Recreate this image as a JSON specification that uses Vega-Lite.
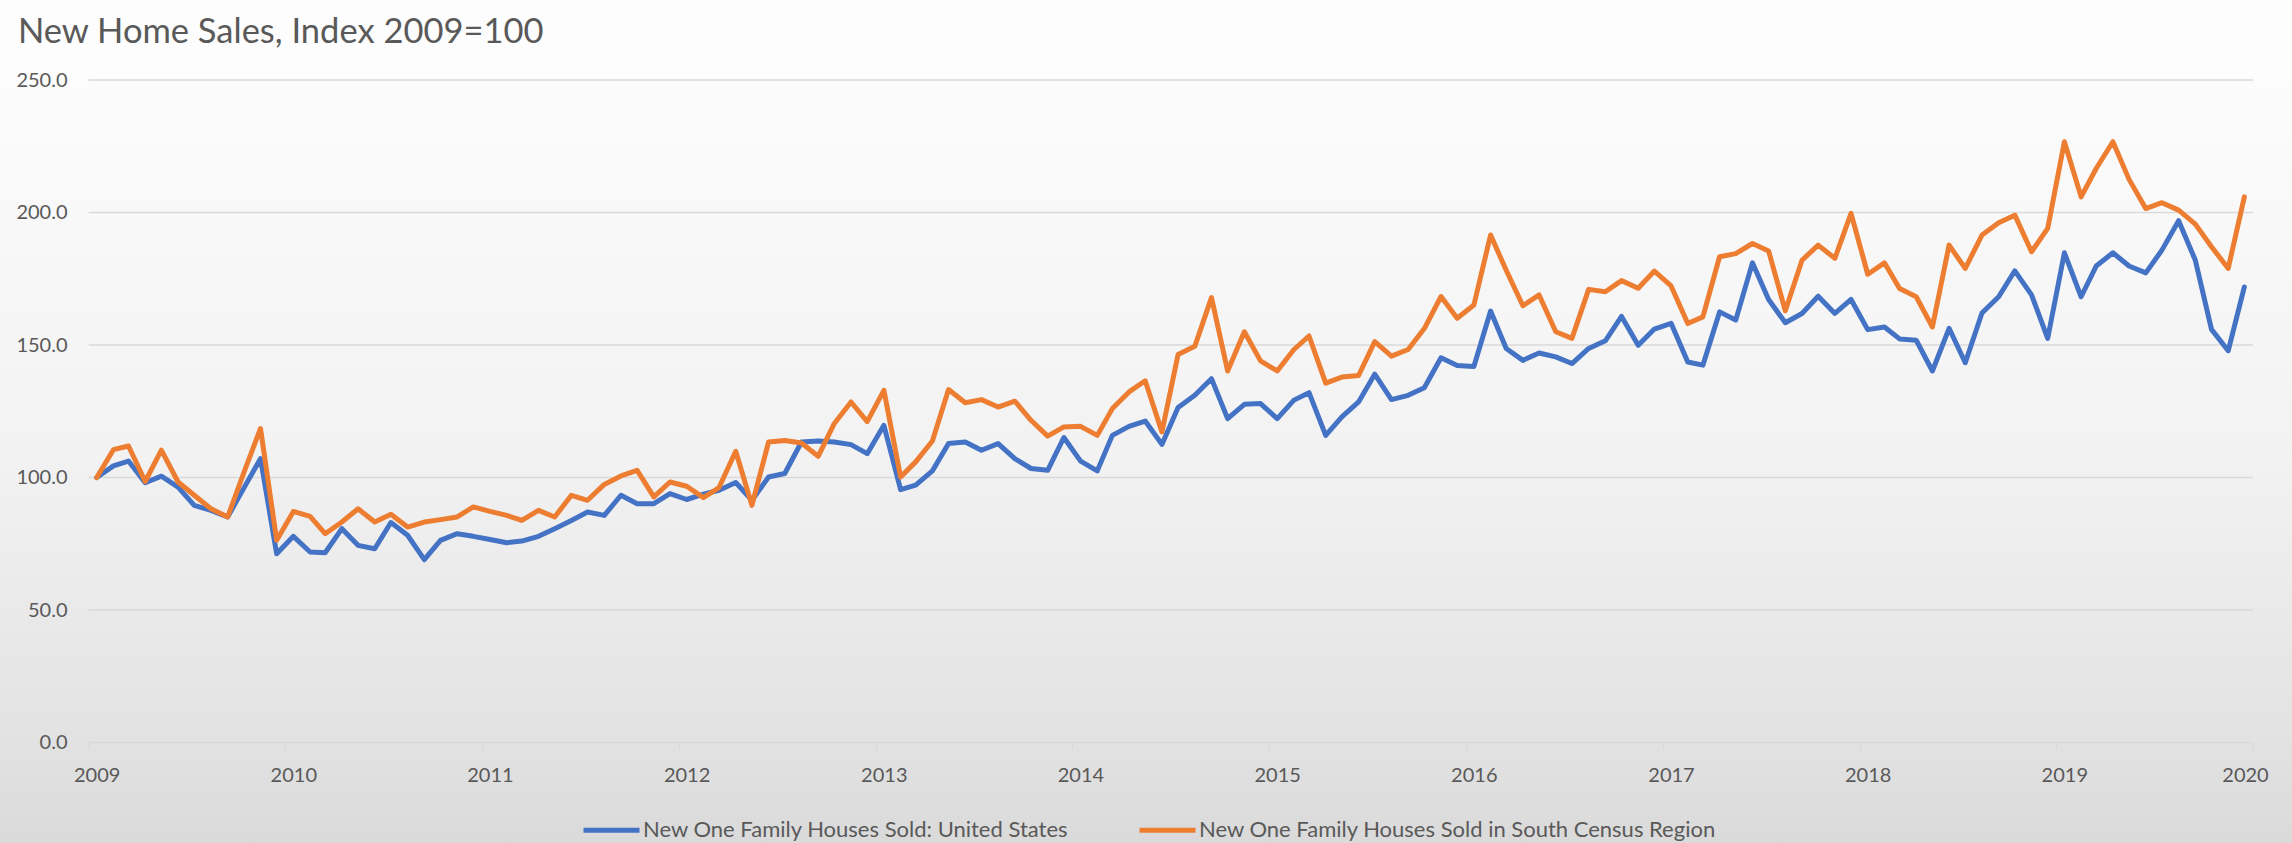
{
  "$schema": "https://vega.github.io/schema/vega-lite/v6.json",
  "autosize": "none",
  "width": 2292,
  "height": 763,
  "padding": {"left": 0, "right": 0, "top": 80, "bottom": 0},
  "background": "#fdfdfd",
  "title": {
    "text": "New Home Sales, Index 2009=100",
    "anchor": "start",
    "frame": "group",
    "dx": 18,
    "offset": 36,
    "dy": 43,
    "baseline": "alphabetic",
    "font": "Lato",
    "fontSize": 34.5,
    "fontWeight": "normal",
    "color": "#595959"
  },
  "config": {
    "view": {
      "stroke": null,
      "fill": {
        "gradient": "linear",
        "x1": 0, "y1": 0, "x2": 0, "y2": 1,
        "stops": [
          {"offset": 0, "color": "#fcfcfc"},
          {"offset": 0.5, "color": "#f2f2f2"},
          {"offset": 0.87, "color": "#e2e2e2"},
          {"offset": 1, "color": "#dadada"}
        ]
      }
    },
    "axisX": {
      "title": null,
      "format": "%Y",
      "tickCount": {"interval": "year", "step": 1},
      "offset": -100.5,
      "grid": false,
      "domain": false,
      "tickColor": "#d9d9d9",
      "tickWidth": 1.5,
      "tickSize": 7,
      "labelFont": "Lato",
      "labelFontSize": 20,
      "labelColor": "#595959",
      "labelPadding": 16,
      "labelFlush": false,
      "labelOverlap": false,
      "labelAlign": "center"
    },
    "axisY": {
      "title": null,
      "format": ".1f",
      "offset": -89,
      "domain": false,
      "ticks": false,
      "tickSize": 0,
      "labelPadding": 22,
      "grid": false,
      "labelFont": "Lato",
      "labelFontSize": 20,
      "labelColor": "#595959"
    }
  },
  "layer": [
    {
      "data": {"values": [{"v": 0}, {"v": 50}, {"v": 100}, {"v": 150}, {"v": 200}, {"v": 250}]},
      "mark": {"type": "rule", "color": "#d9d9d9", "strokeWidth": 1.5},
      "encoding": {
        "x": {
          "datum": {"year": 2009, "month": 1, "date": 1, "utc": true},
          "type": "temporal",
          "scale": {
            "type": "utc",
            "domain": [{"year": 2008, "month": 7, "date": 20, "hours": 12, "utc": true}, {"year": 2020, "month": 3, "date": 13, "hours": 10, "utc": true}],
            "nice": false
          },
          "axis": {
            "title": null,
            "labelFlush": false,
            "labelAlign": "center",
            "labelOffset": {"condition": {"test": "utcyear(datum.value) >= 2020", "value": -8}, "value": 8}
          }
        },
        "x2": {"datum": {"year": 2020, "month": 1, "date": 1, "utc": true}},
        "y": {
          "field": "v",
          "type": "quantitative",
          "scale": {"domain": [-37.92, 250], "nice": false, "zero": false},
          "axis": {"title": null, "values": [0, 50, 100, 150, 200, 250]}
        }
      }
    },
    {
      "data": {"values": [
{"date":"2009-01-16","s":"US","v":100},{"date":"2009-02-16","s":"US","v":104.4},{"date":"2009-03-16","s":"US","v":106.2},{"date":"2009-04-16","s":"US","v":98.0},{"date":"2009-05-16","s":"US","v":100.5},{"date":"2009-06-16","s":"US","v":96.4},{"date":"2009-07-16","s":"US","v":89.5},{"date":"2009-08-16","s":"US","v":87.6},{"date":"2009-09-16","s":"US","v":85.1},{"date":"2009-10-16","s":"US","v":96.0},{"date":"2009-11-16","s":"US","v":107.1},{"date":"2009-12-16","s":"US","v":71.2},
{"date":"2010-01-16","s":"US","v":77.8},{"date":"2010-02-16","s":"US","v":71.9},{"date":"2010-03-16","s":"US","v":71.6},{"date":"2010-04-16","s":"US","v":80.7},{"date":"2010-05-16","s":"US","v":74.4},{"date":"2010-06-16","s":"US","v":73.1},{"date":"2010-07-16","s":"US","v":83.0},{"date":"2010-08-16","s":"US","v":78.2},{"date":"2010-09-16","s":"US","v":69.0},{"date":"2010-10-16","s":"US","v":76.3},{"date":"2010-11-16","s":"US","v":78.8},{"date":"2010-12-16","s":"US","v":77.8},
{"date":"2011-01-16","s":"US","v":76.6},{"date":"2011-02-16","s":"US","v":75.4},{"date":"2011-03-16","s":"US","v":76.0},{"date":"2011-04-16","s":"US","v":77.8},{"date":"2011-05-16","s":"US","v":80.7},{"date":"2011-06-16","s":"US","v":83.8},{"date":"2011-07-16","s":"US","v":87.0},{"date":"2011-08-16","s":"US","v":85.7},{"date":"2011-09-16","s":"US","v":93.3},{"date":"2011-10-16","s":"US","v":90.1},{"date":"2011-11-16","s":"US","v":90.1},{"date":"2011-12-16","s":"US","v":93.9},
{"date":"2012-01-16","s":"US","v":91.7},{"date":"2012-02-16","s":"US","v":93.7},{"date":"2012-03-16","s":"US","v":95.2},{"date":"2012-04-16","s":"US","v":98.1},{"date":"2012-05-16","s":"US","v":91.4},{"date":"2012-06-16","s":"US","v":100.2},{"date":"2012-07-16","s":"US","v":101.5},{"date":"2012-08-16","s":"US","v":113.4},{"date":"2012-09-16","s":"US","v":113.8},{"date":"2012-10-16","s":"US","v":113.4},{"date":"2012-11-16","s":"US","v":112.4},{"date":"2012-12-16","s":"US","v":109.0},
{"date":"2013-01-16","s":"US","v":119.7},{"date":"2013-02-16","s":"US","v":95.4},{"date":"2013-03-16","s":"US","v":97.1},{"date":"2013-04-16","s":"US","v":102.5},{"date":"2013-05-16","s":"US","v":112.8},{"date":"2013-06-16","s":"US","v":113.4},{"date":"2013-07-16","s":"US","v":110.3},{"date":"2013-08-16","s":"US","v":112.8},{"date":"2013-09-16","s":"US","v":107.1},{"date":"2013-10-16","s":"US","v":103.4},{"date":"2013-11-16","s":"US","v":102.7},{"date":"2013-12-16","s":"US","v":115.1},
{"date":"2014-01-16","s":"US","v":106.2},{"date":"2014-02-16","s":"US","v":102.5},{"date":"2014-03-16","s":"US","v":115.9},{"date":"2014-04-16","s":"US","v":119.3},{"date":"2014-05-16","s":"US","v":121.3},{"date":"2014-06-16","s":"US","v":112.5},{"date":"2014-07-16","s":"US","v":126.4},{"date":"2014-08-16","s":"US","v":131.0},{"date":"2014-09-16","s":"US","v":137.3},{"date":"2014-10-16","s":"US","v":122.2},{"date":"2014-11-16","s":"US","v":127.6},{"date":"2014-12-16","s":"US","v":127.9},
{"date":"2015-01-16","s":"US","v":122.2},{"date":"2015-02-16","s":"US","v":129.2},{"date":"2015-03-16","s":"US","v":132.0},{"date":"2015-04-16","s":"US","v":115.9},{"date":"2015-05-16","s":"US","v":122.9},{"date":"2015-06-16","s":"US","v":128.5},{"date":"2015-07-16","s":"US","v":139.0},{"date":"2015-08-16","s":"US","v":129.4},{"date":"2015-09-16","s":"US","v":131.0},{"date":"2015-10-16","s":"US","v":133.9},{"date":"2015-11-16","s":"US","v":145.2},{"date":"2015-12-16","s":"US","v":142.3},
{"date":"2016-01-16","s":"US","v":141.9},{"date":"2016-02-16","s":"US","v":162.8},{"date":"2016-03-16","s":"US","v":148.7},{"date":"2016-04-16","s":"US","v":144.2},{"date":"2016-05-16","s":"US","v":147.0},{"date":"2016-06-16","s":"US","v":145.5},{"date":"2016-07-16","s":"US","v":143.0},{"date":"2016-08-16","s":"US","v":148.7},{"date":"2016-09-16","s":"US","v":151.6},{"date":"2016-10-16","s":"US","v":160.8},{"date":"2016-11-16","s":"US","v":149.9},{"date":"2016-12-16","s":"US","v":156.0},
{"date":"2017-01-16","s":"US","v":158.2},{"date":"2017-02-16","s":"US","v":143.6},{"date":"2017-03-16","s":"US","v":142.4},{"date":"2017-04-16","s":"US","v":162.5},{"date":"2017-05-16","s":"US","v":159.4},{"date":"2017-06-16","s":"US","v":181.0},{"date":"2017-07-16","s":"US","v":167.2},{"date":"2017-08-16","s":"US","v":158.4},{"date":"2017-09-16","s":"US","v":161.9},{"date":"2017-10-16","s":"US","v":168.4},{"date":"2017-11-16","s":"US","v":161.9},{"date":"2017-12-16","s":"US","v":167.2},
{"date":"2018-01-16","s":"US","v":155.8},{"date":"2018-02-16","s":"US","v":156.8},{"date":"2018-03-16","s":"US","v":152.3},{"date":"2018-04-16","s":"US","v":151.8},{"date":"2018-05-16","s":"US","v":140.2},{"date":"2018-06-16","s":"US","v":156.3},{"date":"2018-07-16","s":"US","v":143.3},{"date":"2018-08-16","s":"US","v":162.1},{"date":"2018-09-16","s":"US","v":168.2},{"date":"2018-10-16","s":"US","v":178.0},{"date":"2018-11-16","s":"US","v":168.9},{"date":"2018-12-16","s":"US","v":152.5},
{"date":"2019-01-16","s":"US","v":184.8},{"date":"2019-02-16","s":"US","v":168.2},{"date":"2019-03-16","s":"US","v":179.8},{"date":"2019-04-16","s":"US","v":184.8},{"date":"2019-05-16","s":"US","v":179.8},{"date":"2019-06-16","s":"US","v":177.2},{"date":"2019-07-16","s":"US","v":185.8},{"date":"2019-08-16","s":"US","v":196.9},{"date":"2019-09-16","s":"US","v":182.0},{"date":"2019-10-16","s":"US","v":155.9},{"date":"2019-11-16","s":"US","v":147.8},{"date":"2019-12-16","s":"US","v":171.9},
{"date":"2009-01-16","s":"South","v":100},{"date":"2009-02-16","s":"South","v":110.5},{"date":"2009-03-16","s":"South","v":111.9},{"date":"2009-04-16","s":"South","v":98.5},{"date":"2009-05-16","s":"South","v":110.3},{"date":"2009-06-16","s":"South","v":98.3},{"date":"2009-07-16","s":"South","v":93.3},{"date":"2009-08-16","s":"South","v":88.2},{"date":"2009-09-16","s":"South","v":85.1},{"date":"2009-10-16","s":"South","v":101.8},{"date":"2009-11-16","s":"South","v":118.5},{"date":"2009-12-16","s":"South","v":76.3},
{"date":"2010-01-16","s":"South","v":87.2},{"date":"2010-02-16","s":"South","v":85.3},{"date":"2010-03-16","s":"South","v":78.8},{"date":"2010-04-16","s":"South","v":83.2},{"date":"2010-05-16","s":"South","v":88.2},{"date":"2010-06-16","s":"South","v":83.2},{"date":"2010-07-16","s":"South","v":86.1},{"date":"2010-08-16","s":"South","v":81.3},{"date":"2010-09-16","s":"South","v":83.2},{"date":"2010-10-16","s":"South","v":84.1},{"date":"2010-11-16","s":"South","v":85.1},{"date":"2010-12-16","s":"South","v":88.9},
{"date":"2011-01-16","s":"South","v":87.2},{"date":"2011-02-16","s":"South","v":85.7},{"date":"2011-03-16","s":"South","v":83.8},{"date":"2011-04-16","s":"South","v":87.6},{"date":"2011-05-16","s":"South","v":85.1},{"date":"2011-06-16","s":"South","v":93.3},{"date":"2011-07-16","s":"South","v":91.4},{"date":"2011-08-16","s":"South","v":97.4},{"date":"2011-09-16","s":"South","v":100.6},{"date":"2011-10-16","s":"South","v":102.7},{"date":"2011-11-16","s":"South","v":92.7},{"date":"2011-12-16","s":"South","v":98.3},
{"date":"2012-01-16","s":"South","v":96.7},{"date":"2012-02-16","s":"South","v":92.4},{"date":"2012-03-16","s":"South","v":96.2},{"date":"2012-04-16","s":"South","v":109.9},{"date":"2012-05-16","s":"South","v":89.5},{"date":"2012-06-16","s":"South","v":113.4},{"date":"2012-07-16","s":"South","v":114.0},{"date":"2012-08-16","s":"South","v":113.0},{"date":"2012-09-16","s":"South","v":108.0},{"date":"2012-10-16","s":"South","v":120.4},{"date":"2012-11-16","s":"South","v":128.5},{"date":"2012-12-16","s":"South","v":121.1},
{"date":"2013-01-16","s":"South","v":132.9},{"date":"2013-02-16","s":"South","v":100.2},{"date":"2013-03-16","s":"South","v":105.9},{"date":"2013-04-16","s":"South","v":113.8},{"date":"2013-05-16","s":"South","v":133.2},{"date":"2013-06-16","s":"South","v":128.2},{"date":"2013-07-16","s":"South","v":129.4},{"date":"2013-08-16","s":"South","v":126.6},{"date":"2013-09-16","s":"South","v":128.8},{"date":"2013-10-16","s":"South","v":121.6},{"date":"2013-11-16","s":"South","v":115.6},{"date":"2013-12-16","s":"South","v":119.1},
{"date":"2014-01-16","s":"South","v":119.3},{"date":"2014-02-16","s":"South","v":115.9},{"date":"2014-03-16","s":"South","v":126.0},{"date":"2014-04-16","s":"South","v":132.3},{"date":"2014-05-16","s":"South","v":136.5},{"date":"2014-06-16","s":"South","v":117.2},{"date":"2014-07-16","s":"South","v":146.4},{"date":"2014-08-16","s":"South","v":149.5},{"date":"2014-09-16","s":"South","v":167.9},{"date":"2014-10-16","s":"South","v":140.2},{"date":"2014-11-16","s":"South","v":155.0},{"date":"2014-12-16","s":"South","v":144.0},
{"date":"2015-01-16","s":"South","v":140.2},{"date":"2015-02-16","s":"South","v":148.3},{"date":"2015-03-16","s":"South","v":153.4},{"date":"2015-04-16","s":"South","v":135.6},{"date":"2015-05-16","s":"South","v":137.9},{"date":"2015-06-16","s":"South","v":138.5},{"date":"2015-07-16","s":"South","v":151.3},{"date":"2015-08-16","s":"South","v":145.8},{"date":"2015-09-16","s":"South","v":148.3},{"date":"2015-10-16","s":"South","v":156.2},{"date":"2015-11-16","s":"South","v":168.3},{"date":"2015-12-16","s":"South","v":160.1},
{"date":"2016-01-16","s":"South","v":165.1},{"date":"2016-02-16","s":"South","v":191.5},{"date":"2016-03-16","s":"South","v":178.2},{"date":"2016-04-16","s":"South","v":164.8},{"date":"2016-05-16","s":"South","v":168.9},{"date":"2016-06-16","s":"South","v":155.0},{"date":"2016-07-16","s":"South","v":152.5},{"date":"2016-08-16","s":"South","v":171.0},{"date":"2016-09-16","s":"South","v":170.1},{"date":"2016-10-16","s":"South","v":174.3},{"date":"2016-11-16","s":"South","v":171.4},{"date":"2016-12-16","s":"South","v":177.9},
{"date":"2017-01-16","s":"South","v":172.3},{"date":"2017-02-16","s":"South","v":158.1},{"date":"2017-03-16","s":"South","v":160.6},{"date":"2017-04-16","s":"South","v":183.3},{"date":"2017-05-16","s":"South","v":184.5},{"date":"2017-06-16","s":"South","v":188.3},{"date":"2017-07-16","s":"South","v":185.5},{"date":"2017-08-16","s":"South","v":162.9},{"date":"2017-09-16","s":"South","v":182.0},{"date":"2017-10-16","s":"South","v":187.7},{"date":"2017-11-16","s":"South","v":182.7},{"date":"2017-12-16","s":"South","v":199.7},
{"date":"2018-01-16","s":"South","v":176.7},{"date":"2018-02-16","s":"South","v":181.0},{"date":"2018-03-16","s":"South","v":171.3},{"date":"2018-04-16","s":"South","v":168.2},{"date":"2018-05-16","s":"South","v":156.8},{"date":"2018-06-16","s":"South","v":187.7},{"date":"2018-07-16","s":"South","v":178.9},{"date":"2018-08-16","s":"South","v":191.5},{"date":"2018-09-16","s":"South","v":196.1},{"date":"2018-10-16","s":"South","v":199.0},{"date":"2018-11-16","s":"South","v":185.2},{"date":"2018-12-16","s":"South","v":194.0},
{"date":"2019-01-16","s":"South","v":226.7},{"date":"2019-02-16","s":"South","v":205.9},{"date":"2019-03-16","s":"South","v":216.6},{"date":"2019-04-16","s":"South","v":226.7},{"date":"2019-05-16","s":"South","v":212.5},{"date":"2019-06-16","s":"South","v":201.5},{"date":"2019-07-16","s":"South","v":203.7},{"date":"2019-08-16","s":"South","v":200.9},{"date":"2019-09-16","s":"South","v":195.6},{"date":"2019-10-16","s":"South","v":187.1},{"date":"2019-11-16","s":"South","v":178.9},{"date":"2019-12-16","s":"South","v":205.9}
      ]},
      "mark": {"type": "line", "strokeWidth": 5, "strokeJoin": "round", "strokeCap": "round"},
      "encoding": {
        "x": {
          "field": "date",
          "type": "temporal",
          "scale": {
            "type": "utc",
            "domain": [{"year": 2008, "month": 7, "date": 20, "hours": 12, "utc": true}, {"year": 2020, "month": 3, "date": 13, "hours": 10, "utc": true}],
            "nice": false
          },
          "axis": {
            "title": null,
            "labelFlush": false,
            "labelAlign": "center",
            "labelOffset": {"condition": {"test": "utcyear(datum.value) >= 2020", "value": -8}, "value": 8}
          }
        },
        "y": {
          "field": "v",
          "type": "quantitative",
          "scale": {"domain": [-37.92, 250], "nice": false, "zero": false},
          "axis": {"title": null, "values": [0, 50, 100, 150, 200, 250]}
        },
        "color": {
          "field": "s",
          "type": "nominal",
          "scale": {"domain": ["US", "South"], "range": ["#4472C4", "#ED7D31"]},
          "legend": {
            "title": null,
            "orient": "none",
            "legendX": 581,
            "legendY": 719.5,
            "direction": "horizontal",
            "symbolType": "stroke",
            "symbolSize": 3136,
            "symbolStrokeWidth": 5,
            "labelFont": "Lato",
            "labelFontSize": 22,
            "labelColor": "#595959",
            "labelOffset": 1,
            "labelLimit": 0,
            "columnPadding": 60,
            "padding": 0,
            "labelExpr": "datum.value == 'US' ? 'New One Family Houses Sold: United States' : 'New One Family Houses Sold in South Census Region'"
          }
        }
      }
    }
  ]
}
